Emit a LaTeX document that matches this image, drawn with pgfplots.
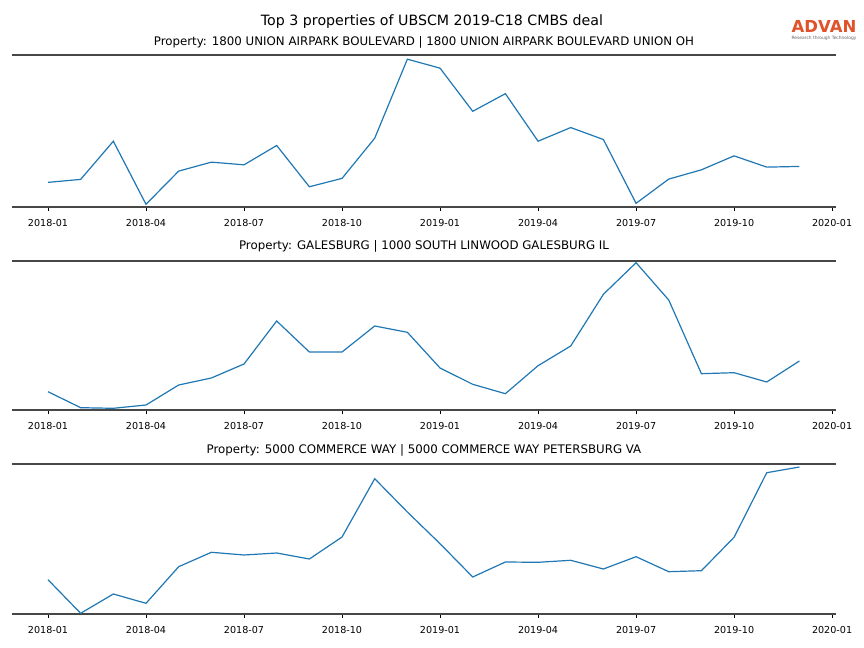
\documentclass[border=0pt]{standalone}
\usepackage{fontspec}
\setmainfont{DejaVu Sans}
\usepackage{pgfplots}
\pgfplotsset{compat=1.18}
\usepackage{pgfplotstable}
\definecolor{mplblue}{HTML}{1F77B4}
\definecolor{spine}{HTML}{474747}
\definecolor{advan}{HTML}{E0522A}

% monthly activity (relative scale), month 0 = 2018-01
\pgfplotstableread{
m union galesburg petersburg
0  24.4  18.3  34.3
1  27.4   2.3   0.7
2  65.7   1.7  20.0
3   2.4   5.0  10.7
4  35.7  25.0  47.3
5  44.7  32.0  61.7
6  42.0  46.0  59.0
7  61.4  89.0  61.0
8  20.0  58.0  55.0
9  28.4  58.0  77.0
10 68.7  84.0 135.3
11 148.0 77.7 102.0
12 139.0 42.0  70.3
13 95.7  25.7  37.0
14 113.4 16.3  52.0
15 65.7  44.3  51.7
16 79.4  64.0  53.7
17 67.4 115.7  45.0
18  3.4 147.3  57.3
19 27.7 110.0  42.3
20 37.0  36.3  43.3
21 51.0  37.3  76.7
22 39.7  28.0 141.3
23 40.4  49.0 147.0
}\traffic

\pgfplotsset{
  panel/.style={
    anchor=south west, scale only axis,
    width=824bp, height=150bp,
    xmin=-1.102, xmax=24.12, ymin=0,
    separate axis lines,
    every outer x axis line/.append style={draw=spine, line width=1.7bp},
    every outer y axis line/.append style={draw=none},
    xtick={0,3,...,24},
    xticklabels={2018-01,2018-04,2018-07,2018-10,2019-01,2019-04,2019-07,2019-10,2020-01},
    xtick pos=left, tick align=outside,
    major tick length=4bp,
    tick style={black, line width=0.7bp},
    ytick=\empty,
    xticklabel style={font=\fontsize{9.6bp}{11bp}\selectfont, anchor=base, yshift=-15.5bp},
  },
  series/.style={mplblue, line width=1.2bp, no markers},
}

\begin{document}
\begin{tikzpicture}
\path[use as bounding box] (0,0) rectangle (864bp,648bp);

\node[anchor=base, font=\fontsize{14.2bp}{16bp}\selectfont] at (432bp,622.7bp)
  {Top 3 properties of UBSCM 2019-C18 CMBS deal};

% logo
\node[anchor=base, text=advan, inner sep=0pt, font=\bfseries\fontsize{16.5bp}{17bp}\selectfont] at (824bp,615.7bp) {ADVAN};
\node[anchor=base, text=black!60, inner sep=0pt, font=\fontsize{4.4bp}{5bp}\selectfont] at (824bp,608.3bp) {Research through Technology};

\begin{axis}[panel, at={(12bp,441.3bp)}, height=151.5bp, ymax=152]
  \addplot[series] table[x=m, y=union] {\traffic};
\end{axis}
\node[anchor=base, font=\fontsize{11.8bp}{13bp}\selectfont] at (424bp,602.7bp)
  {Property: 1800 UNION AIRPARK BOULEVARD | 1800 UNION AIRPARK BOULEVARD UNION OH};

\begin{axis}[panel, at={(12bp,238bp)}, height=149.3bp, ymax=149.3]
  \addplot[series] table[x=m, y=galesburg] {\traffic};
\end{axis}
\node[anchor=base, font=\fontsize{11.8bp}{13bp}\selectfont] at (424bp,398.7bp)
  {Property: GALESBURG | 1000 SOUTH LINWOOD GALESBURG IL};

\begin{axis}[panel, at={(12bp,34bp)}, height=150.3bp, ymax=150.3]
  \addplot[series] table[x=m, y=petersburg] {\traffic};
\end{axis}
\node[anchor=base, font=\fontsize{11.8bp}{13bp}\selectfont] at (424bp,194.7bp)
  {Property: 5000 COMMERCE WAY | 5000 COMMERCE WAY PETERSBURG VA};
\end{tikzpicture}
\end{document}
